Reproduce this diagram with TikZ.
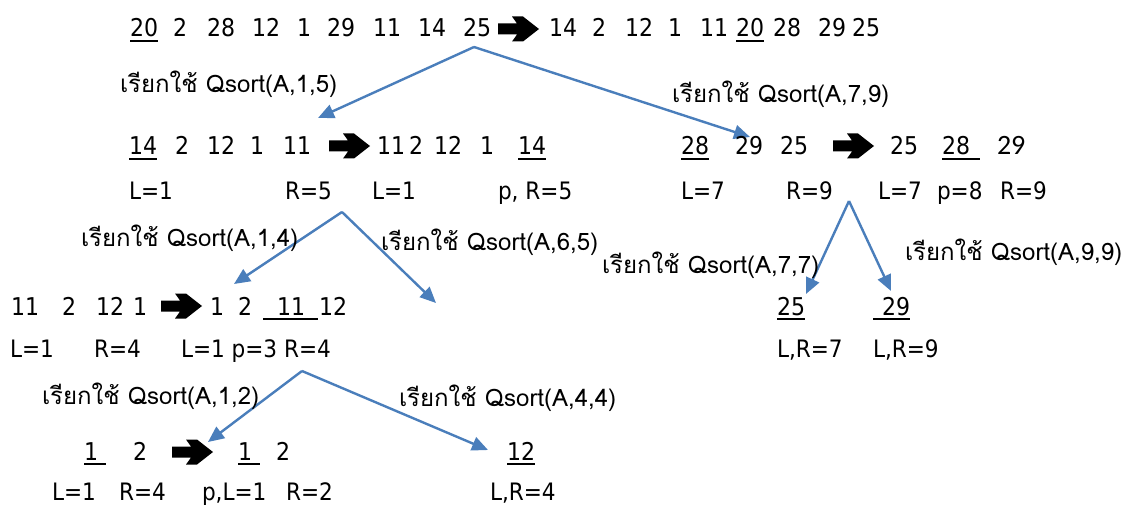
\documentclass[tikz,border=0pt]{standalone}
\usepackage{fontspec}
\usetikzlibrary{arrows.meta}
\newfontfamily\numf{DejaVu Sans Condensed}
\newfontfamily\thaif[Script=Thai]{Loma}
\newfontfamily\calf{Carlito}
\definecolor{callblue}{HTML}{4A7EBB}
\tikzset{
  num/.style={font=\numf\fontsize{24.5}{28}\selectfont, anchor=base west, inner sep=0pt, outer sep=0pt},
  lbl/.style={font=\numf\fontsize{24}{28}\selectfont, anchor=base west, inner sep=0pt, outer sep=0pt},
  call/.style={font=\thaif\fontsize{24}{28}\selectfont, anchor=base west, inner sep=0pt, outer sep=0pt},
  callarrow/.style={draw=callblue, line width=2.4pt, -{Triangle[length=16pt,width=14pt]}},
  ulline/.style={line width=1.8pt},
  bigarrow/.pic={\fill (0,-5.5) -- (19,-5.5) -- (14,-12.5) -- (25,-12.5) -- (41,0) -- (25,12.5) -- (14,12.5) -- (19,5.5) -- (0,5.5) -- cycle;}
}
\newcommand\ulnode[1]{\draw[ulline] ([yshift=-4pt]#1.base west) -- ([yshift=-4pt]#1.base east);}
\begin{document}
\begin{tikzpicture}[x=1pt,y=-1pt]
\useasboundingbox[fill=white] (0,0) rectangle (1122,508);
% ---- row 1
\foreach \t/\x [count=\i] in {20/130,2/173,28/207,12/252,1/297,29/327,11/373,14/418,25/463}
  \node[num] (ra\i) at (\x,37) {\t};
\pic at (498,29) {bigarrow};
\foreach \t/\x [count=\i] in {14/549,2/592,12/625,1/668,11/700,20/736,28/773,29/818,25/852}
  \node[num] (rb\i) at (\x,37) {\t};
\ulnode{ra1}\ulnode{rb6}
\coordinate (s1) at (474,47);
\coordinate (t1) at (318,118);
\coordinate (t2) at (750,137);
\draw[callarrow] (s1) -- (t1);
\draw[callarrow] (s1) -- (t2);
\node[call] (c1) at (120,93) {เรียกใช้ Qsort(A,1,5)};
\node[call] (c2) at (672,103) {เรียกใช้ Qsort(A,7,9)};
% ---- row 2 left
\foreach \t/\x [count=\i] in {14/129,2/175,12/207,1/250,11/283}
  \node[num] (la\i) at (\x,155) {\t};
\pic at (329,146) {bigarrow};
\foreach \t/\x [count=\i] in {11/377,2/409,12/434,1/480,14/518}
  \node[num] (lb\i) at (\x,155) {\t};
\ulnode{la1}\ulnode{lb5}
\node[lbl] (ll1) at (129,200) {L=1};
\node[lbl] (ll2) at (285,200) {R=5};
\node[lbl] (ll3) at (372,200) {L=1};
\node[lbl] (ll4) at (498,200) {p, R=5};
% ---- row 2 right
\foreach \t/\x [count=\i] in {28/681,29/735,25/780}
  \node[num] (ma\i) at (\x,155) {\t};
\pic at (833,146) {bigarrow};
\node[num] (mb1) at (890,155) {25};
\node[num] (mb2) at (942,155) {28};
\node[num, font=\calf\fontsize{28}{32}\selectfont] (mb3) at (997,155) {29};
\ulnode{ma1}
\draw[ulline] ([yshift=-4pt]mb2.base west) -- ([xshift=10pt,yshift=-4pt]mb2.base east);
\node[lbl] (ml1) at (681,200) {L=7};
\node[lbl] (ml2) at (786,200) {R=9};
\node[lbl] (ml3) at (878,200) {L=7};
\node[lbl] (ml4) at (937,200) {p=8};
\node[lbl] (ml5) at (1000,200) {R=9};
% ---- calls level 2
\coordinate (s2) at (342,212);
\coordinate (t3) at (234,284);
\coordinate (t4) at (436,303);
\draw[callarrow] (s2) -- (t3);
\draw[callarrow] (s2) -- (t4);
\node[call] (c3) at (81,246) {เรียกใช้ Qsort(A,1,4)};
\node[call] (c4) at (381,250) {เรียกใช้ Qsort(A,6,5)};
\coordinate (s3) at (849,201);
\coordinate (t5) at (806,294);
\coordinate (t6) at (891,291);
\draw[callarrow] (s3) -- (t5);
\draw[callarrow] (s3) -- (t6);
\node[call] (c5) at (602,273) {เรียกใช้ Qsort(A,7,7)};
\node[call] (c6) at (905,260) {เรียกใช้ Qsort(A,9,9)};
% ---- row 3 left
\foreach \t/\x [count=\i] in {11/11,2/62,12/96,1/133}
  \node[num] (na\i) at (\x,315) {\t};
\pic at (161,306) {bigarrow};
\foreach \t/\x [count=\i] in {1/210,2/238,11/277,12/319}
  \node[num] (nb\i) at (\x,315) {\t};
\draw[ulline] ([xshift=-14pt,yshift=-4pt]nb3.base west) -- ([xshift=13pt,yshift=-4pt]nb3.base east);
\node[lbl] (nl1) at (10,357) {L=1};
\node[lbl] (nl2) at (94,357) {R=4};
\node[lbl] (nl3) at (181,357) {L=1 p=3 R=4};
% ---- row 3 right
\node[num] (qa1) at (777,315) {25};
\node[num] (qa2) at (882,315) {29};
\ulnode{qa1}
\draw[ulline] ([xshift=-9pt,yshift=-4pt]qa2.base west) -- ([yshift=-4pt]qa2.base east);
\node[lbl] (ql1) at (777,357) {L,R=7};
\node[lbl] (ql2) at (873,357) {L,R=9};
% ---- calls level 3
\coordinate (s4) at (302,371);
\coordinate (t7) at (208,442);
\coordinate (t8) at (488,450);
\draw[callarrow] (s4) -- (t7);
\draw[callarrow] (s4) -- (t8);
\node[call] (c7) at (42,404) {เรียกใช้ Qsort(A,1,2)};
\node[call] (c8) at (399,406) {เรียกใช้ Qsort(A,4,4)};
% ---- row 4
\node[num] (ua1) at (84,460) {1};
\node[num] (ua2) at (133,460) {2};
\pic at (172,452) {bigarrow};
\node[num] (ub1) at (238,460) {1};
\node[num] (ub2) at (276,460) {2};
\node[num] (uc1) at (507,460) {12};
\draw[ulline] ([yshift=-4pt]ua1.base west) -- ([xshift=8pt,yshift=-4pt]ua1.base east);
\draw[ulline] ([yshift=-4pt]ub1.base west) -- ([xshift=8pt,yshift=-4pt]ub1.base east);
\ulnode{uc1}
\node[lbl] (ul1) at (52,500) {L=1};
\node[lbl] (ul2) at (119,500) {R=4};
\node[lbl] (ul3) at (202,500) {p,L=1};
\node[lbl] (ul4) at (286,500) {R=2};
\node[lbl] (ul5) at (490,500) {L,R=4};
\end{tikzpicture}
\end{document}
